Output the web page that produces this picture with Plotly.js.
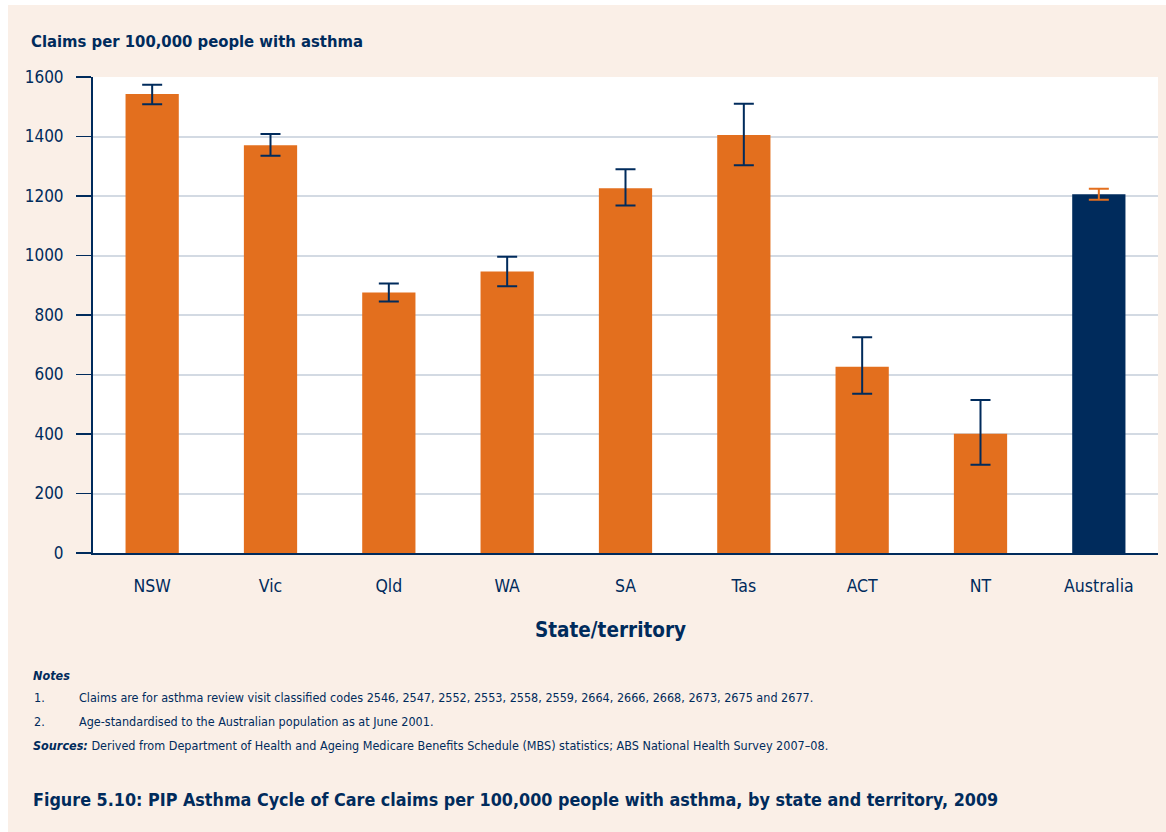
<!DOCTYPE html>
<html>
<head>
<meta charset="utf-8">
<script src="https://cdn.plot.ly/plotly-3.0.1.min.js"></script>
<style>
html,body{margin:0;padding:0;background:#fff;}
#chart{width:1166px;height:832px;}
</style>
</head>
<body>
<div id="chart"></div>
<script>
// Data
const categories = ['NSW', 'Vic', 'Qld', 'WA', 'SA', 'Tas', 'ACT', 'NT', 'Australia'];
const claims     = [1543, 1371, 876, 946, 1226, 1405, 626, 401, 1206];
const ciLower    = [1508, 1335, 845, 897, 1168, 1303, 535, 297, 1187];
const ciUpper    = [1574, 1408, 906, 996, 1290, 1510, 725, 514, 1224];
const yTicks     = [0, 200, 400, 600, 800, 1000, 1200, 1400, 1600];

const ORANGE = '#E36F1E';
const NAVY = '#002B5C';
const PEACH = '#FAEFE7';
const FONT = '"Liberation Sans Narrow", "DejaVu Sans Condensed", "Arial Narrow", sans-serif';

const states = categories.slice(0, 8);
const idxS = [0,1,2,3,4,5,6,7];
const traceStates = {
  type: 'bar',
  x: states,
  y: idxS.map(i => claims[i]),
  marker: {color: ORANGE},
  error_y: {
    type: 'data', symmetric: false,
    array: idxS.map(i => ciUpper[i] - claims[i]),
    arrayminus: idxS.map(i => claims[i] - ciLower[i]),
    color: NAVY, thickness: 2, width: 10
  },
  hoverinfo: 'x+y'
};
const traceAus = {
  type: 'bar',
  x: [categories[8]],
  y: [claims[8]],
  marker: {color: NAVY},
  error_y: {
    type: 'data', symmetric: false,
    array: [ciUpper[8] - claims[8]],
    arrayminus: [claims[8] - ciLower[8]],
    color: ORANGE, thickness: 2, width: 10
  },
  hoverinfo: 'x+y'
};

// pixel -> paper helpers (plot area: x 93..1158, y 77..553)
const L = 93, R = 1158, T = 77, B = 553;
const px = p => (p - L) / (R - L);
const py = p => (B - p) / (B - T);

const layout = {
  width: 1166, height: 832,
  margin: {l: L, r: 1166 - R, t: T, b: 832 - B, pad: 0},
  paper_bgcolor: PEACH,
  plot_bgcolor: '#FFFFFF',
  showlegend: false,
  barmode: 'group',
  bargap: 0.55,
  font: {family: FONT, color: NAVY, size: 17},
  xaxis: {
    categoryorder: 'array', categoryarray: categories,
    showline: true, linecolor: NAVY, linewidth: 2,
    ticks: '', showgrid: false, zeroline: false,
    tickfont: {family: FONT, color: NAVY, size: 17.5},
    ticklabelstandoff: 16,
    range: [-0.5, 8.5], fixedrange: true
  },
  yaxis: {
    range: [0, 1600],
    tickvals: yTicks,
    ticktext: yTicks.map(String),
    showline: true, linecolor: NAVY, linewidth: 2,
    ticks: 'outside', ticklen: 15, tickwidth: 1.5, tickcolor: NAVY,
    showgrid: true, gridcolor: '#D3DAE3', gridwidth: 2,
    zeroline: false,
    tickfont: {family: FONT, color: NAVY, size: 17},
    ticklabelstandoff: 9,
    fixedrange: true
  },
  shapes: [
    {type: 'rect', xref: 'paper', yref: 'paper', x0: px(-5), x1: px(8), y0: py(840), y1: py(-5),
     fillcolor: '#FFFFFF', line: {width: 0}},
    {type: 'rect', xref: 'paper', yref: 'paper', x0: px(-5), x1: px(1170), y0: py(5), y1: py(-5),
     fillcolor: '#FFFFFF', line: {width: 0}}
  ],
  annotations: [
    {text: '<b>Claims per 100,000 people with asthma</b>', xref: 'paper', yref: 'paper',
     x: px(29), y: py(41), xanchor: 'left', yanchor: 'middle', showarrow: false,
     font: {family: FONT, color: NAVY, size: 16.5}},
    {text: '<b>State/territory</b>', xref: 'paper', yref: 'paper',
     x: px(610), y: py(630), xanchor: 'center', yanchor: 'middle', showarrow: false,
     font: {family: FONT, color: NAVY, size: 20.5}},
    {text: '<b><i>Notes</i></b>', xref: 'paper', yref: 'paper',
     x: px(31), y: py(675), xanchor: 'left', yanchor: 'middle', showarrow: false,
     font: {family: FONT, color: NAVY, size: 12.5}},
    {text: '1.', xref: 'paper', yref: 'paper',
     x: px(32), y: py(697), xanchor: 'left', yanchor: 'middle', showarrow: false,
     font: {family: FONT, color: NAVY, size: 12.5}},
    {text: 'Claims are for asthma review visit classified codes 2546, 2547, 2552, 2553, 2558, 2559, 2664, 2666, 2668, 2673, 2675 and 2677.',
     xref: 'paper', yref: 'paper',
     x: px(77), y: py(697), xanchor: 'left', yanchor: 'middle', showarrow: false,
     font: {family: FONT, color: NAVY, size: 12.5}},
    {text: '2.', xref: 'paper', yref: 'paper',
     x: px(32), y: py(721), xanchor: 'left', yanchor: 'middle', showarrow: false,
     font: {family: FONT, color: NAVY, size: 12.5}},
    {text: 'Age-standardised to the Australian population as at June 2001.',
     xref: 'paper', yref: 'paper',
     x: px(77), y: py(721), xanchor: 'left', yanchor: 'middle', showarrow: false,
     font: {family: FONT, color: NAVY, size: 12.5}},
    {text: '<b><i>Sources:</i></b> Derived from Department of Health and Ageing Medicare Benefits Schedule (MBS) statistics; ABS National Health Survey 2007–08.',
     xref: 'paper', yref: 'paper',
     x: px(31), y: py(745), xanchor: 'left', yanchor: 'middle', showarrow: false,
     font: {family: FONT, color: NAVY, size: 12.5}},
    {text: '<b>Figure 5.10: PIP Asthma Cycle of Care claims per 100,000 people with asthma, by state and territory, 2009</b>',
     xref: 'paper', yref: 'paper',
     x: px(31), y: py(799), xanchor: 'left', yanchor: 'middle', showarrow: false,
     font: {family: FONT, color: NAVY, size: 17.8}}
  ]
};

Plotly.newPlot('chart', [traceStates, traceAus], layout, {displayModeBar: false, staticPlot: true});
</script>
</body>
</html>
